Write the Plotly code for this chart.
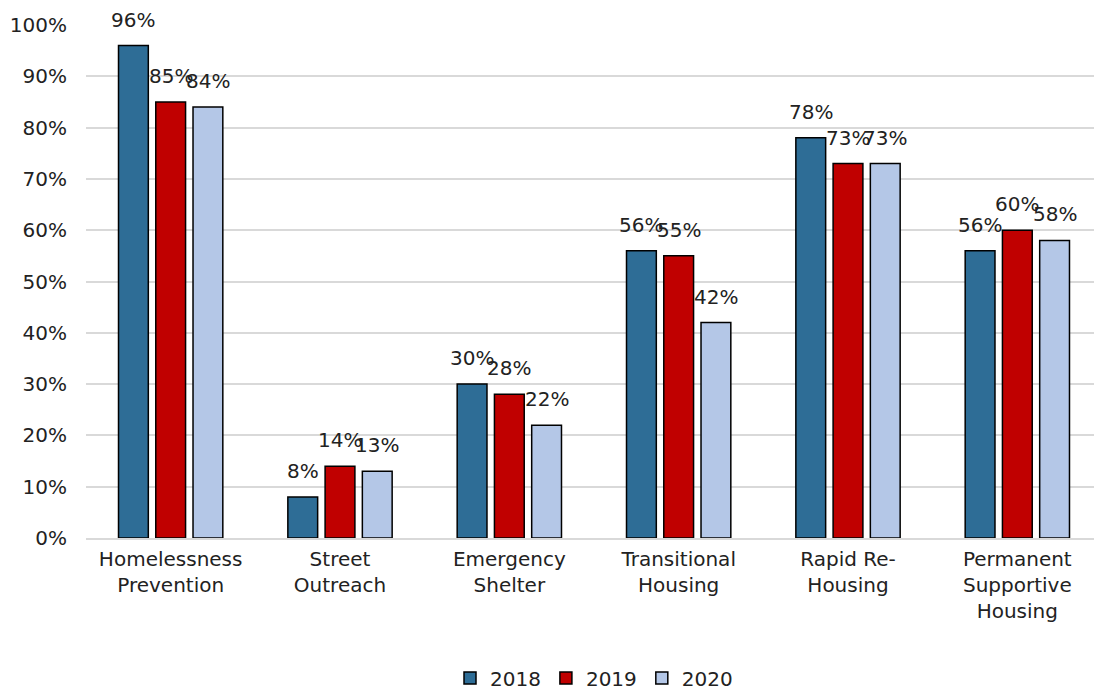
import plotly.graph_objects as go

categories = [
    "Homelessness<br>Prevention",
    "Street<br>Outreach",
    "Emergency<br>Shelter",
    "Transitional<br>Housing",
    "Rapid Re-<br>Housing",
    "Permanent<br>Supportive<br>Housing",
]
vals_2018 = [0.96, 0.08, 0.30, 0.56, 0.78, 0.56]
vals_2019 = [0.85, 0.14, 0.28, 0.55, 0.73, 0.60]
vals_2020 = [0.84, 0.13, 0.22, 0.42, 0.73, 0.58]

series = [
    ("2018", vals_2018, "#2E6D96"),
    ("2019", vals_2019, "#C00000"),
    ("2020", vals_2020, "#B4C7E7"),
]

FONT = "DejaVu Sans"

# the page puts the figure 8px in from the top-left corner
W, H = 1094, 683
ML, MR, MT, MB = 78, 0, 17, 153
BARGAP, GROUPGAP = 0.34, 0.2

fig = go.Figure()
for name, vals, color in series:
    fig.add_trace(go.Bar(
        name=name,
        x=categories,
        y=vals,
        marker=dict(color=color, line=dict(color="black", width=1.5)),
    ))

# value labels: sit a bit higher above the bars than plotly's "outside" text
slot = (W - ML - MR) / len(categories) * (1 - BARGAP) / len(series)
for i, (name, vals, color) in enumerate(series):
    for cat, v in zip(categories, vals):
        fig.add_annotation(
            x=cat, y=v, text=f"{v:.0%}",
            xshift=(i - 1) * slot, yshift=12,
            yanchor="bottom", showarrow=False,
            font=dict(size=20, color="#222222", family=FONT),
        )

fig.update_layout(
    barmode="group",
    bargap=BARGAP,
    bargroupgap=GROUPGAP,
    width=W,
    height=H,
    margin=dict(l=ML, r=MR, t=MT, b=MB, autoexpand=False),
    plot_bgcolor="white",
    paper_bgcolor="white",
    font=dict(family=FONT, size=20, color="#222222"),
    legend=dict(
        orientation="h",
        x=0.5, xanchor="center",
        y=-0.273, yanchor="middle",
        font=dict(size=20),
        traceorder="normal",
    ),
    yaxis=dict(
        range=[0, 1.0],
        dtick=0.1,
        tickformat=".0%",
        showgrid=True,
        gridcolor="#D9D9D9",
        gridwidth=1.5,
        zeroline=False,
        ticks="",
        ticklabelstandoff=18,
        automargin=False,
    ),
    xaxis=dict(
        showline=True,
        linecolor="#D9D9D9",
        linewidth=1.5,
        ticks="",
        tickangle=0,
        automargin=False,
        ticklabelstandoff=2,
    ),
)

fig.write_html("out.html")
